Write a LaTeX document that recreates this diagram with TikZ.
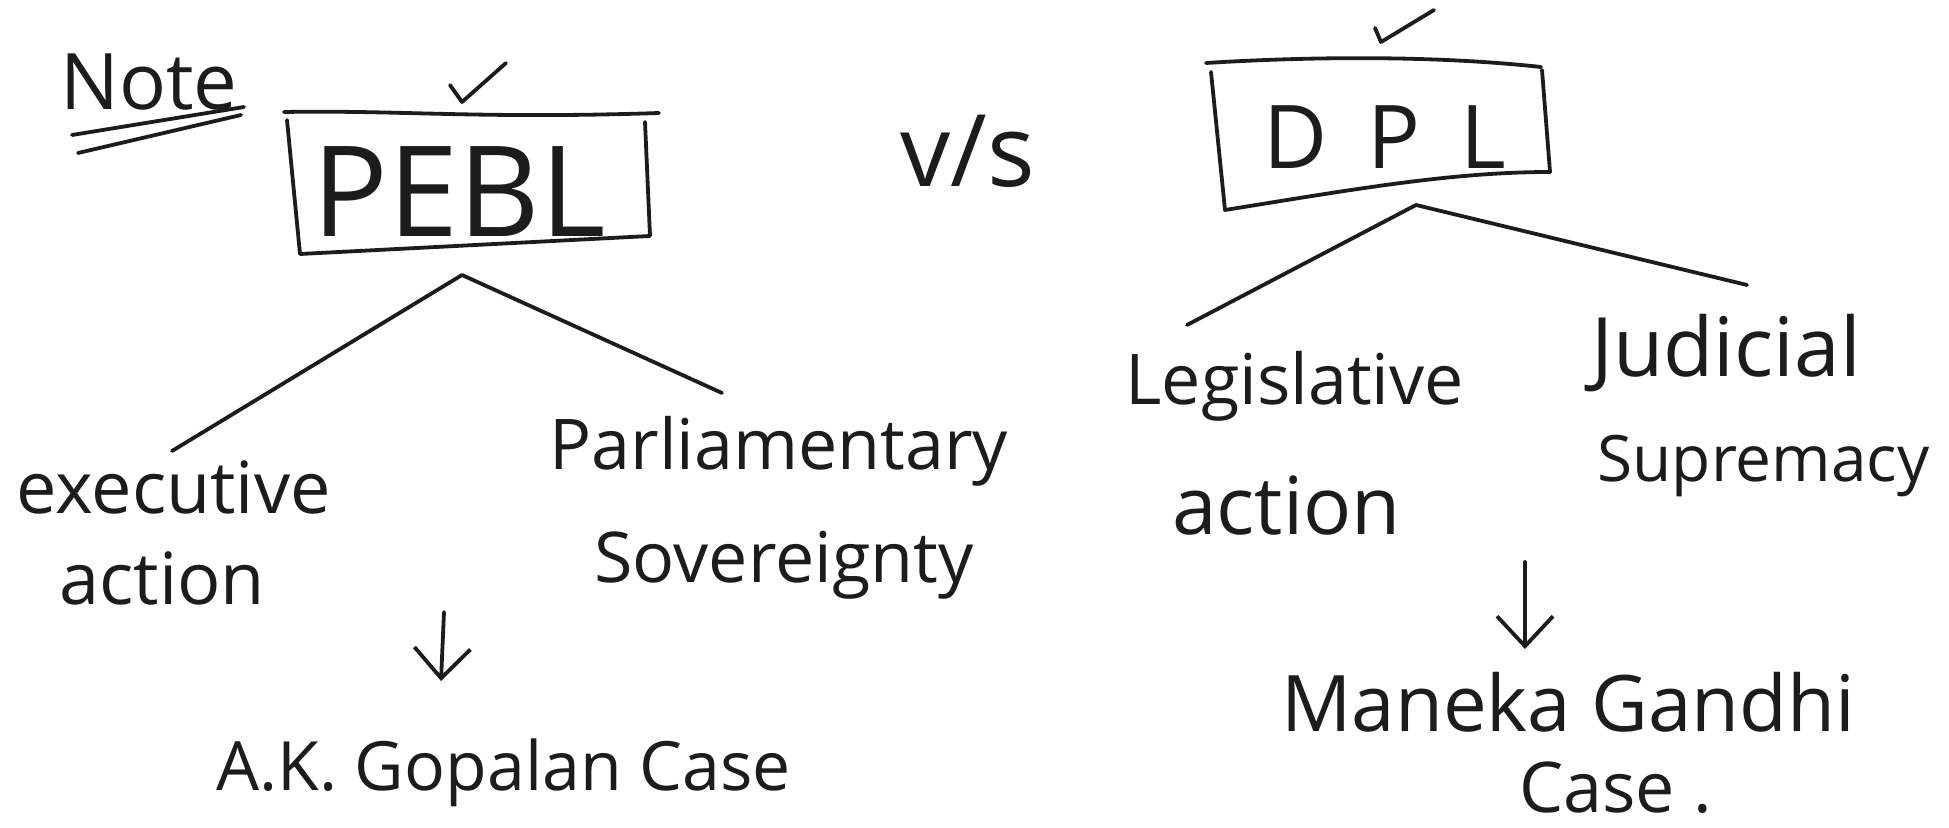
\documentclass[tikz,border=0pt]{standalone}
\usepackage{fontspec}
\setmainfont{Open Sans}
\usetikzlibrary{arrows.meta}
\definecolor{inkc}{HTML}{1C1C1C}
\begin{document}
\begin{tikzpicture}[x=0.5pt,y=-0.5pt,
  ink/.style={draw=inkc, line width=1.9pt, line cap=round, line join=round},
  lbl/.style={inner sep=0pt, anchor=base west, text=inkc},
  harr/.style={ink, -{Straight Barb[length=15pt,width=28pt,line width=1.9pt]}}]
\useasboundingbox[fill=white] (0,0) rectangle (1949,828);

% Note
\node[lbl, font=\fontsize{39}{46}\selectfont] (note) at (60,110) {Note};
\draw[ink] (72,135) -- (244,107);
\draw[ink] (78,153) -- (241,115);

% check marks
\draw[ink] (450,85) -- (462,102) -- (506,63);
\draw[ink] (1375,28) -- (1381,42) -- (1434,10);

% PEBL box
\draw[ink] (284,112) .. controls (400,110) and (480,119) .. (659,113);
\draw[ink] (287,120) -- (300,254) -- (650,236) -- (645,122);
\node[inner sep=0pt, text=inkc, font=\fontsize{63}{70}\selectfont] (pebl) at (459,192) {PEBL};

% v/s
\node[lbl, font=\fontsize{50}{60}\selectfont] (vs) at (900,187) {v/s};

% DPL box
\draw[ink] (1206,63) .. controls (1320,56) and (1440,56) .. (1541,67);
\draw[ink] (1211,72) -- (1225,210) .. controls (1350,190) and (1450,172) .. (1550,172) -- (1542,70);
\node[inner sep=0pt, text=inkc, font=\fontsize{44}{50}\selectfont] (dpl) at (1385,137) {D\hspace{20pt}P\hspace{20pt}L};

% PEBL branches
\coordinate (pa) at (462,275);
\coordinate (pl) at (172,451);
\coordinate (pr) at (722,393);
\draw[ink] (pl) -- (pa) -- (pr);

% DPL branches
\coordinate (da) at (1416,205);
\coordinate (dl) at (1187,325);
\coordinate (dr) at (1747,285);
\draw[ink] (dl) -- (da) -- (dr);

% labels
\node[lbl, font=\fontsize{36}{43}\selectfont] (exec) at (16,514) {executive};
\node[lbl, font=\fontsize{36}{43}\selectfont] (act1) at (59,604) {action};
\node[lbl, font=\fontsize{35}{43}\selectfont] (parl) at (549,470) {Parliamentary};
\node[lbl, font=\fontsize{35}{43}\selectfont] (sov) at (594,582) {Sovereignty};
\node[lbl, font=\fontsize{35}{43}\selectfont] (leg) at (1125,405) {Legislative};
\node[lbl, font=\fontsize{40}{48}\selectfont] (act2) at (1172,534) {action};
\node[lbl, font=\fontsize{41}{48}\selectfont] (jud) at (1591,377) {Judicial};
\node[lbl, font=\fontsize{32}{40}\selectfont] (sup) at (1597,481) {Supremacy};

% arrows
\coordinate (l1) at (444,612);
\coordinate (l2) at (441,681);
\draw[harr] (l1) -- (l2);
\coordinate (r1) at (1525,562);
\coordinate (r2) at (1525,649);
\draw[harr] (r1) -- (r2);

% cases
\node[lbl, font=\fontsize{34}{40}\selectfont] (akg) at (216,790) {A.K. Gopalan Case};
\node[lbl, font=\fontsize{39}{46}\selectfont] (mg) at (1281,731) {Maneka Gandhi};
\node[lbl, font=\fontsize{35}{42}\selectfont] (case) at (1519,812) {Case .};
\end{tikzpicture}
\end{document}
